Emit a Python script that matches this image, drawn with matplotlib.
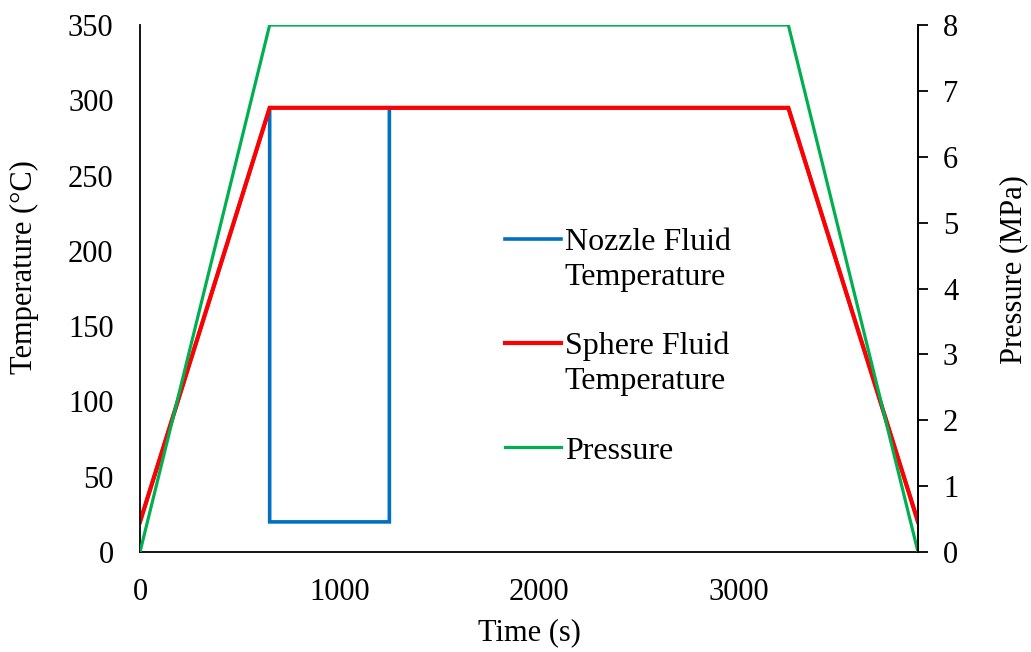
import matplotlib.pyplot as plt
from matplotlib.lines import Line2D

# time points (s)
time = [0, 650, 3250, 3900]
sphere_temp = [20, 295, 295, 20]
pressure = [0, 8, 8, 0]

# nozzle follows the sphere, except a cold spell between 650 and 1250 s
nozzle_time = [0, 650, 650, 1250, 1250, 3250, 3900]
nozzle_temp = [20, 295, 20, 20, 295, 295, 20]

blue = '#0070C0'
red = '#FF0000'
green = '#00B050'

plt.rcParams['font.family'] = ['Liberation Serif', 'DejaVu Serif']
plt.rcParams['font.size'] = 22

fig = plt.figure(figsize=(10.31, 6.52), dpi=100)
ax = fig.add_axes([140 / 1031, 100 / 652, 778 / 1031, 527 / 652])
ax2 = ax.twinx()

ax.plot(nozzle_time, nozzle_temp, color=blue, lw=2.6, solid_joinstyle='miter')
ax.plot(time, sphere_temp, color=red, lw=3, solid_joinstyle='miter')
ax2.plot(time, pressure, color=green, lw=2.3, solid_joinstyle='miter')

ax.set_xlim(0, 3900)
ax.set_ylim(0, 350)
ax2.set_ylim(0, 8)
ax.set_xticks([0, 1000, 2000, 3000])
ax.set_yticks(range(0, 351, 50))
ax2.set_yticks(range(0, 9))

for a in (ax, ax2):
    a.spines['top'].set_visible(False)
    for s in a.spines.values():
        s.set_linewidth(1.3)
ax2.spines['left'].set_visible(False)
ax2.spines['bottom'].set_visible(False)

ax.tick_params(axis='x', length=0, pad=19)
ax.tick_params(axis='y', length=0, pad=19)
ax2.tick_params(axis='y', direction='out', length=7, width=1.3, pad=11)

ax.set_xlabel('Time (s)')
ax.set_ylabel('Temperature (°C)')
ax2.set_ylabel('Pressure (MPa)')
ax.xaxis.set_label_coords(0.5, -0.125)
ax.yaxis.set_label_coords(-0.13, 0.541)
ax2.yaxis.set_label_coords(1.105, 0.535)

# legend rows: second line of each label and spacer rows get no handle
blank = Line2D([], [], color='none')
handles = [Line2D([], [], color=blue, lw=2.6), blank, blank,
           Line2D([], [], color=red, lw=3), blank, blank,
           Line2D([], [], color=green, lw=2.3)]
labels = ['Nozzle Fluid', 'Temperature', ' ', 'Sphere Fluid', 'Temperature', ' ', 'Pressure']
ax2.legend(handles, labels, loc='upper left', bbox_to_anchor=(0.469, 0.616),
           frameon=False, borderpad=0, borderaxespad=0, labelspacing=0.17,
           handlelength=1.75, handletextpad=0.12, fontsize=23)

fig.savefig('out.png', dpi=100)
